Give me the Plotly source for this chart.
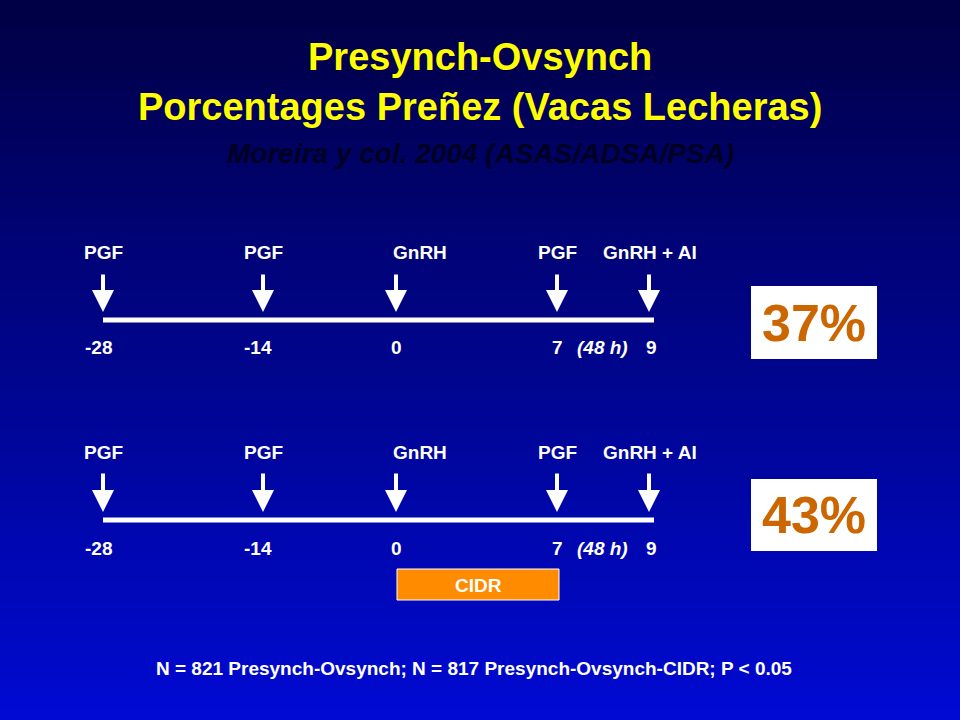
import plotly.graph_objects as go

days = ["-28", "-14", "0", "7", "9"]
agents = ["PGF", "PGF", "GnRH", "PGF", "GnRH + AI"]
percent = ["37%", "43%"]
title1 = "Presynch-Ovsynch"
title2 = "Porcentages Preñez (Vacas Lecheras)"
subtitle = "Moreira y col. 2004 (ASAS/ADSA/PSA)"
footer = "N = 821 Presynch-Ovsynch; N = 817 Presynch-Ovsynch-CIDR; P < 0.05"

# layout constants (pixel positions)
xs = [103, 263, 396, 557, 649]
label_x = [103, 263, 420, 557, 650]
day_x = [98, 258, 396, 557, 651]
rows = [dict(lab=252, a0=273, a1=312, line=320, num=347, box=(286, 359)),
        dict(lab=452, a0=472, a1=512, line=520, num=548, box=(479, 551))]

F = "Liberation Sans, Arial, sans-serif"
fig = go.Figure()
fig.add_trace(go.Scatter(x=[0, 960], y=[0, 720], mode="markers", marker=dict(opacity=0), hoverinfo="skip", showlegend=False))
shapes, ann = [], []
N = 72
for i in range(N):
    t = i / (N - 1)
    r, g, b = 0, int(0 + 10 * t), int(70 + 140 * t)
    shapes.append(dict(type="rect", x0=0, x1=960, y0=i * 10, y1=i * 10 + 11, fillcolor=f"rgb({r},{g},{b})", line_width=0, layer="below"))

LS = 19
for row in rows:
    shapes.append(dict(type="line", x0=103, x1=654, y0=row["line"], y1=row["line"], line=dict(color="white", width=5)))
    for i in range(5):
        ann.append(dict(x=label_x[i], y=row["lab"], text=agents[i], showarrow=False, font=dict(family=F, size=LS, color="white"), xref="x", yref="y"))
        ann.append(dict(x=xs[i], y=row["a1"], ax=xs[i], ay=row["a0"], axref="x", ayref="y", xref="x", yref="y", text="", showarrow=True,
                        arrowhead=2, arrowsize=1.1, arrowwidth=4, arrowcolor="white"))
        ann.append(dict(x=day_x[i], y=row["num"], text=days[i], showarrow=False, font=dict(family=F, size=LS, color="white")))
    ann.append(dict(x=602, y=row["num"], text="<i>(48 h)</i>", showarrow=False, font=dict(family=F, size=LS, color="white")))

for k, row in enumerate(rows):
    y0, y1 = row["box"]
    shapes.append(dict(type="rect", x0=751, x1=877, y0=y0, y1=y1, fillcolor="white", line_width=0))
    ann.append(dict(x=814, y=(y0 + y1) / 2, text=percent[k], showarrow=False, font=dict(family=F, size=52, color="#CC6600")))

shapes.append(dict(type="rect", x0=397, x1=559, y0=569, y1=600, fillcolor="#FF8C00", line=dict(color="white", width=1)))
ann.append(dict(x=478, y=585, text="CIDR", showarrow=False, font=dict(family=F, size=LS, color="white")))

ann.append(dict(x=480, y=57, text=f"<b>{title1}</b>", showarrow=False, font=dict(family=F, size=38, color="#FFFF00")))
ann.append(dict(x=480, y=107, text=f"<b>{title2}</b>", showarrow=False, font=dict(family=F, size=38, color="#FFFF00")))
ann.append(dict(x=480, y=153, text=f"<b><i>{subtitle}</i></b>", showarrow=False, font=dict(family=F, size=28, color="#000022")))
ann.append(dict(x=474, y=668, text=f"<b>{footer}</b>", showarrow=False, font=dict(family=F, size=19, color="white")))
for a in ann:
    if "text" in a and a["text"] and a.get("showarrow") is False and "<b>" not in a["text"]:
        a["text"] = f"<b>{a['text']}</b>"

fig.update_layout(width=960, height=720, margin=dict(l=0, r=0, t=0, b=0), shapes=shapes, annotations=ann,
                  xaxis=dict(range=[0, 960], visible=False, fixedrange=True),
                  yaxis=dict(range=[720, 0], visible=False, fixedrange=True),
                  plot_bgcolor="#000080", paper_bgcolor="#000080", showlegend=False)
fig.write_html("out.html", config={"displayModeBar": False},
               post_script="document.body.style.margin='0';document.body.style.overflow='hidden';")
